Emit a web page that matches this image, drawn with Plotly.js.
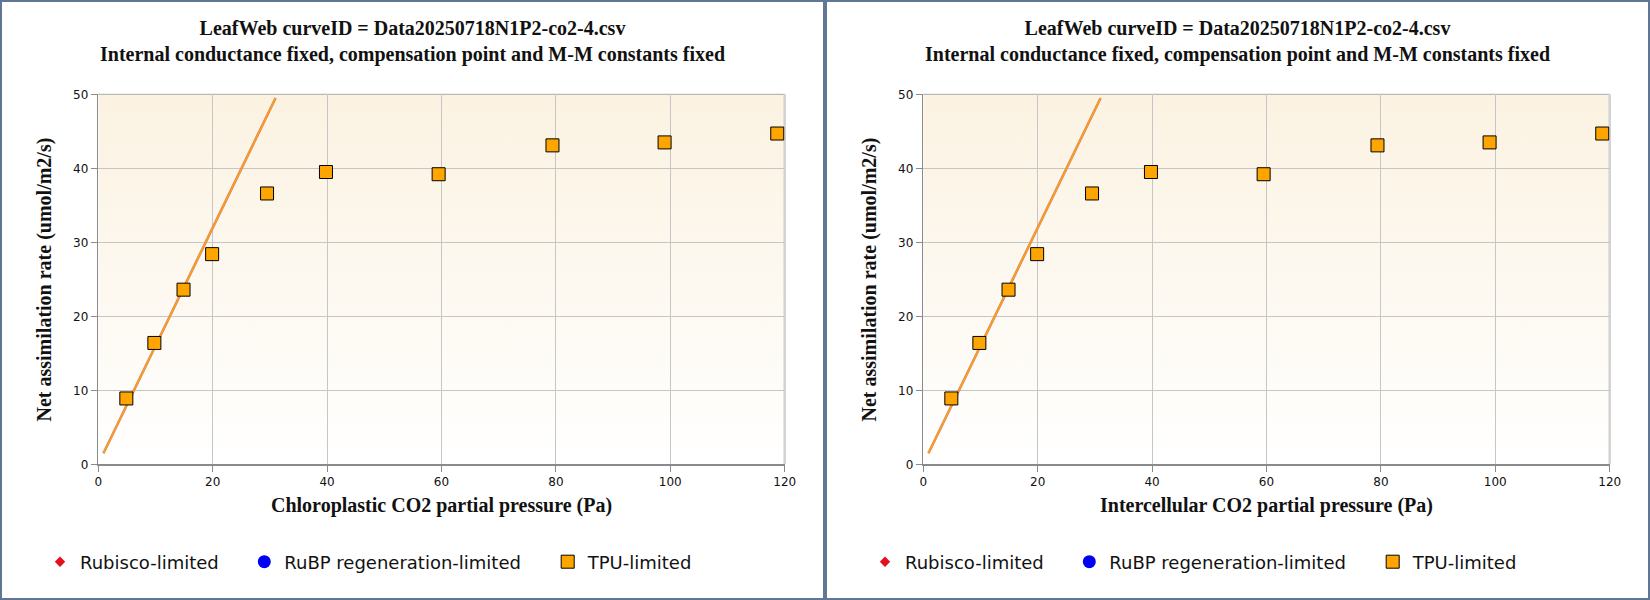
<!DOCTYPE html>
<html>
<head>
<meta charset="utf-8">
<script src="https://cdn.plot.ly/plotly-3.0.1.min.js"></script>
<style>
  html, body { margin: 0; padding: 0; background: #fff; }
  #chart { width: 1650px; height: 600px; }
</style>
</head>
<body>
<div id="chart"></div>
<script>
// ---- data (same fit shown against Cc and Ci) ----
const panelTitles = [
    'LeafWeb curveID = Data20250718N1P2-co2-4.csv<br>Internal conductance fixed, compensation point and M-M constants fixed',
    'LeafWeb curveID = Data20250718N1P2-co2-4.csv<br>Internal conductance fixed, compensation point and M-M constants fixed'
];
const xTitles = ['Chloroplastic CO2 partial pressure (Pa)', 'Intercellular CO2 partial pressure (Pa)'];
const yTitle = 'Net assimilation rate (umol/m2/s)';

// TPU-limited observations
const tpuCo2 = [4.9, 9.8, 14.9, 19.9, 29.5, 39.8, 59.5, 79.4, 99.0, 118.7];
const tpuA   = [8.9, 16.4, 23.6, 28.4, 36.6, 39.5, 39.2, 43.1, 43.5, 44.7];

// fitted limitation curve (straight segment)
const fitCo2 = [0.9, 31.0];
const fitA   = [1.5, 49.5];

// no Rubisco- or RuBP-limited points in this fit, kept for the legend
const rubiscoCo2 = [null], rubiscoA = [null];
const rubpCo2 = [null], rubpA = [null];

const legendNames = ['Rubisco-limited', 'RuBP regeneration-limited', 'TPU-limited'];

// ---- layout helpers (pixel -> paper) ----
const W = 1650, H = 600;
const px = v => v / W;
const py = v => (H - v) / H;
const PANEL = 825;
const PLOT_L = 98.3, PLOT_R = 784.7, PLOT_T = 94.3, PLOT_B = 464.3;

const serif = 'Liberation Serif, Times New Roman, serif';
const sans = 'DejaVu Sans, Verdana, sans-serif';
const gridColor = '#c6c6c6';
const axisColor = '#8a8a8a';

function axisX(p) {
    return {
        domain: [px(PLOT_L + p * PANEL), px(PLOT_R + p * PANEL)],
        anchor: p ? 'y2' : 'y',
        range: [0, 120], tick0: 0, dtick: 20,
        showgrid: true, gridcolor: gridColor, gridwidth: 1,
        zeroline: false, showline: true, linecolor: axisColor, linewidth: 1.5,
        ticks: 'outside', ticklen: 6, tickcolor: axisColor, tickwidth: 1,
        tickfont: { family: sans, size: 12, color: '#111' },
        fixedrange: true
    };
}
function axisY(p) {
    return {
        domain: [py(PLOT_B), py(PLOT_T)],
        anchor: p ? 'x2' : 'x',
        range: [0, 50], tick0: 0, dtick: 10,
        showgrid: true, gridcolor: gridColor, gridwidth: 1,
        zeroline: false, showline: true, linecolor: axisColor, linewidth: 1.5,
        ticks: 'outside', ticklen: 6, tickcolor: axisColor, tickwidth: 1,
        tickfont: { family: sans, size: 12, color: '#111' },
        fixedrange: true
    };
}

const traces = [];
const layout = {
    width: W, height: H,
    margin: { l: 0, r: 0, t: 0, b: 0 },
    paper_bgcolor: '#ffffff',
    plot_bgcolor: 'rgba(0,0,0,0)',
    showlegend: true,
    hovermode: false,
    shapes: [], annotations: [], images: []
};

const bgSvg = "<svg xmlns='http://www.w3.org/2000/svg' width='10' height='100' preserveAspectRatio='none'>" +
    "<defs><linearGradient id='g' x1='0' y1='0' x2='0' y2='1'>" +
    "<stop offset='0' stop-color='#fbf2e1'/><stop offset='1' stop-color='#ffffff'/></linearGradient></defs>" +
    "<rect width='10' height='100' fill='url(#g)'/></svg>";
const bgSrc = 'data:image/svg+xml;charset=utf-8,' + encodeURIComponent(bgSvg);

const textStarts = [80, 284.3, 587.7];
const legendY = py(562);

[0, 1].forEach(p => {
    const xa = p ? 'x2' : 'x', ya = p ? 'y2' : 'y';
    const off = p * PANEL;
    const lg = i => { const n = p * 3 + i + 1; return n === 1 ? 'legend' : 'legend' + n; };

    layout[p ? 'xaxis2' : 'xaxis'] = axisX(p);
    layout[p ? 'yaxis2' : 'yaxis'] = axisY(p);

    traces.push({
        type: 'scatter', mode: 'lines', x: fitCo2, y: fitA, xaxis: xa, yaxis: ya,
        line: { color: '#d9885a', width: 2.6 }, showlegend: false, hoverinfo: 'skip'
    });
    traces.push({
        type: 'scatter', mode: 'lines', x: fitCo2, y: fitA, xaxis: xa, yaxis: ya,
        line: { color: '#ffa01a', width: 1.3 }, showlegend: false, hoverinfo: 'skip'
    });
    traces.push({
        type: 'scatter', mode: 'markers', x: rubiscoCo2, y: rubiscoA, xaxis: xa, yaxis: ya,
        name: legendNames[0], legend: lg(0),
        marker: { symbol: 'diamond', size: 8, color: '#e4101c', line: { width: 0 } }
    });
    traces.push({
        type: 'scatter', mode: 'markers', x: rubpCo2, y: rubpA, xaxis: xa, yaxis: ya,
        name: legendNames[1], legend: lg(1),
        marker: { symbol: 'circle', size: 13, color: '#0000f5', line: { width: 0 } }
    });
    traces.push({
        type: 'scatter', mode: 'markers', x: tpuCo2, y: tpuA, xaxis: xa, yaxis: ya,
        name: legendNames[2], legend: lg(2),
        marker: { symbol: 'square', size: 13, color: '#ffa500', line: { color: '#000', width: 1 } }
    });

    for (let i = 0; i < 3; i++) {
        layout[lg(i)] = {
            x: px(textStarts[i] + off - 40), y: legendY,
            xanchor: 'left', yanchor: 'middle', orientation: 'h',
            bgcolor: 'rgba(0,0,0,0)', borderwidth: 0,
            font: { family: sans, size: 18, color: '#111' }
        };
    }

    // plot background gradient
    layout.images.push({
        source: bgSrc, xref: 'paper', yref: 'paper',
        x: px(PLOT_L + off), y: py(PLOT_T),
        sizex: px(PLOT_R) - px(PLOT_L), sizey: py(PLOT_T) - py(PLOT_B),
        xanchor: 'left', yanchor: 'top', sizing: 'stretch', layer: 'below'
    });

    // top and right frame edges of the plot area
    layout.shapes.push({
        type: 'line', xref: 'paper', yref: 'paper', layer: 'below',
        x0: px(PLOT_L + off), x1: px(PLOT_R + off), y0: py(PLOT_T), y1: py(PLOT_T),
        line: { color: '#a8a8a8', width: 1 }
    });
    layout.shapes.push({
        type: 'line', xref: 'paper', yref: 'paper', layer: 'below',
        x0: px(PLOT_R + off), x1: px(PLOT_R + off), y0: py(PLOT_B), y1: py(PLOT_T),
        line: { color: '#d2d2d2', width: 2.5 }
    });

    // panel frame
    layout.shapes.push({
        type: 'rect', xref: 'paper', yref: 'paper', layer: 'above',
        x0: px(off), x1: px(off + PANEL), y0: 0, y1: 1,
        line: { color: '#5f7794', width: 4 }
    });

    layout.annotations.push({
        xref: 'paper', yref: 'paper', x: px(412 + off), y: py(42),
        xanchor: 'center', yanchor: 'middle', showarrow: false,
        text: panelTitles[p],
        font: { family: serif, size: 20, color: '#111', weight: 'bold' }
    });
    layout.annotations.push({
        xref: 'paper', yref: 'paper', x: px((PLOT_L + PLOT_R) / 2 + off), y: py(505.5),
        xanchor: 'center', yanchor: 'middle', showarrow: false,
        text: xTitles[p],
        font: { family: serif, size: 20, color: '#111', weight: 'bold' }
    });
    layout.annotations.push({
        xref: 'paper', yref: 'paper', x: px(43.5 + off), y: py(280),
        xanchor: 'center', yanchor: 'middle', showarrow: false, textangle: -90,
        text: yTitle,
        font: { family: serif, size: 20, color: '#111', weight: 'bold' }
    });
});

Plotly.newPlot('chart', traces, layout, { staticPlot: true, displayModeBar: false });
</script>
</body>
</html>
